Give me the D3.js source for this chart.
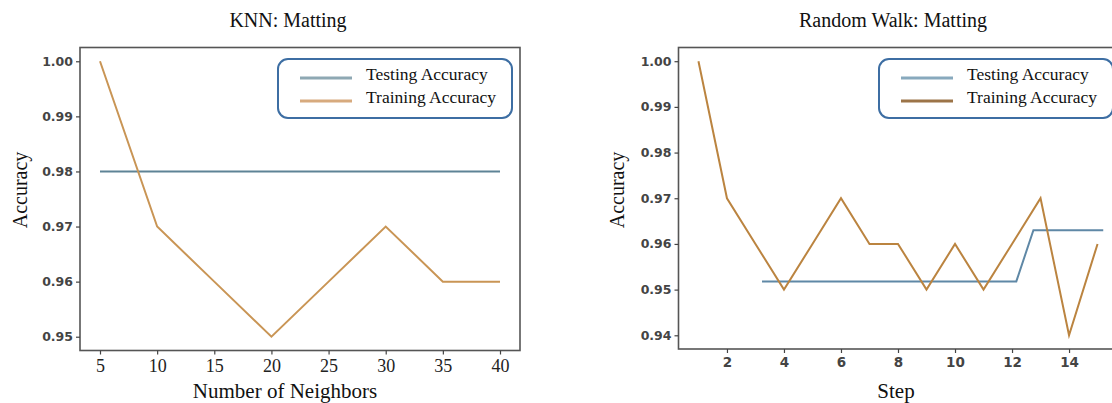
<!DOCTYPE html>
<html>
<head>
<meta charset="utf-8">
<script src="https://cdn.jsdelivr.net/npm/d3@7"></script>
<style>
  body { margin: 0; background: #fff; }
  .serif { font-family: "Liberation Serif", "Times New Roman", serif; fill: #111; }
</style>
</head>
<body>
<svg id="chart" width="1112" height="403"></svg>
<script>
// KNN panel
const knnNeighbors = [5, 10, 15, 20, 25, 30, 35, 40];
const knnTraining = [1.00, 0.97, 0.96, 0.95, 0.96, 0.97, 0.96, 0.96];
const knnTesting = [0.98, 0.98, 0.98, 0.98, 0.98, 0.98, 0.98, 0.98];
const knnXTicks = [5, 10, 15, 20, 25, 30, 35, 40];
const knnYTicks = [0.95, 0.96, 0.97, 0.98, 0.99, 1.00];

// Random walk panel
const rwSteps = [1, 2, 3, 4, 5, 6, 7, 8, 9, 10, 11, 12, 13, 14, 15];
const rwTraining = [1.00, 0.97, 0.96, 0.95, 0.96, 0.97, 0.96, 0.96, 0.95, 0.96, 0.95, 0.96, 0.97, 0.94, 0.96];
const rwTestingSteps = [3.23, 12.15, 12.75, 15.2];
const rwTesting = [0.9518, 0.9518, 0.963, 0.963];
const rwXTicks = [2, 4, 6, 8, 10, 12, 14];
const rwYTicks = [0.94, 0.95, 0.96, 0.97, 0.98, 0.99, 1.00];

const serifFont = '"Liberation Serif", "Times New Roman", serif';
const sansFont = '"DejaVu Sans", sans-serif';

const svg = d3.select("#chart");

function panel(opt) {
    const x = d3.scaleLinear().domain(opt.xDomain).range([opt.left, opt.right]);
    const y = d3.scaleLinear().domain(opt.yDomain).range([opt.bottom, opt.top]);
    const g = svg.append("g");

    const line = d3.line().x(d => x(d[0])).y(d => y(d[1]));

    g.append("path")
        .attr("fill", "none")
        .attr("stroke", opt.testColor)
        .attr("stroke-width", 2)
        .attr("d", line(d3.zip(opt.testX, opt.testY)));

    g.append("path")
        .attr("fill", "none")
        .attr("stroke", opt.trainColor)
        .attr("stroke-width", 2)
        .attr("d", line(d3.zip(opt.trainX, opt.trainY)));

    // frame
    g.append("rect")
        .attr("x", opt.left).attr("y", opt.top)
        .attr("width", opt.right - opt.left).attr("height", opt.bottom - opt.top)
        .attr("fill", "none").attr("stroke", "#555").attr("stroke-width", 1.6);

    const xAxis = g.append("g")
        .attr("transform", `translate(0,${opt.bottom})`)
        .call(d3.axisBottom(x).tickValues(opt.xTicks).tickSize(4).tickPadding(opt.xSerif ? 5 : 4).tickFormat(d3.format("d")));
    xAxis.select(".domain").remove();
    xAxis.selectAll(".tick line").attr("stroke", "#444").attr("stroke-width", 1.2);
    if (opt.xSerif) {
        xAxis.selectAll(".tick text")
            .style("font-family", serifFont).style("font-size", "18px").style("fill", "#222");
    } else {
        xAxis.selectAll(".tick text")
            .style("font-family", sansFont).style("font-size", "13.5px")
            .style("font-weight", "600").style("fill", "#444");
    }

    const yAxis = g.append("g")
        .attr("transform", `translate(${opt.left},0)`)
        .call(d3.axisLeft(y).tickValues(opt.yTicks).tickSize(4).tickPadding(3).tickFormat(d3.format(".2f")));
    yAxis.select(".domain").remove();
    yAxis.selectAll(".tick line").attr("stroke", "#444").attr("stroke-width", 1.2);
    yAxis.selectAll(".tick text")
        .style("font-family", sansFont).style("font-size", "12.5px")
        .style("font-weight", "bold").style("fill", "#444");

    svg.append("text").attr("class", "serif")
        .attr("x", opt.titleX).attr("y", 27)
        .attr("text-anchor", "middle").style("font-size", "20px")
        .text(opt.title);

    svg.append("text").attr("class", "serif")
        .attr("x", opt.xLabelX).attr("y", 398)
        .attr("text-anchor", "middle").style("font-size", "21px")
        .text(opt.xLabel);

    svg.append("text").attr("class", "serif")
        .attr("transform", `translate(${opt.yLabelX},190) rotate(-90)`)
        .attr("text-anchor", "middle").style("font-size", "20px")
        .text("Accuracy");

    // legend
    const lg = svg.append("g").attr("transform", `translate(${opt.legendX},${opt.legendY})`);
    lg.append("rect")
        .attr("width", 234).attr("height", 59).attr("rx", 10)
        .attr("fill", "#fff").attr("stroke", "#3d6ea3").attr("stroke-width", 2);
    const items = [["Testing Accuracy", opt.legendTest], ["Training Accuracy", opt.legendTrain]];
    items.forEach((it, i) => {
        lg.append("line")
            .attr("x1", 22).attr("x2", 74)
            .attr("y1", 19 + i * 23).attr("y2", 19 + i * 23)
            .attr("stroke", it[1]).attr("stroke-width", 3);
        lg.append("text").attr("class", "serif")
            .attr("x", 88).attr("y", 21 + i * 23)
            .style("font-size", "17.5px")
            .text(it[0]);
    });
}

panel({
    left: 80, right: 520, top: 47.5, bottom: 350.5,
    xDomain: [3.25, 41.75], yDomain: [0.9475, 1.0025],
    xTicks: knnXTicks, yTicks: knnYTicks, xSerif: true,
    trainX: knnNeighbors, trainY: knnTraining,
    testX: knnNeighbors, testY: knnTesting,
    trainColor: "#c99555", testColor: "#5e8396",
    legendTrain: "#d7aa7e", legendTest: "#8ea8b3",
    title: "KNN: Matting", titleX: 288,
    xLabel: "Number of Neighbors", xLabelX: 285, yLabelX: 27,
    legendX: 278, legendY: 59
});

panel({
    left: 678.5, right: 1117.5, top: 47.5, bottom: 349,
    xDomain: [0.3, 15.7], yDomain: [0.937, 1.003],
    xTicks: rwXTicks, yTicks: rwYTicks, xSerif: false,
    trainX: rwSteps, trainY: rwTraining,
    testX: rwTestingSteps, testY: rwTesting,
    trainColor: "#bb8440", testColor: "#5f88a6",
    legendTrain: "#9c7448", legendTest: "#88a9bd",
    title: "Random Walk: Matting", titleX: 893,
    xLabel: "Step", xLabelX: 896, yLabelX: 624,
    legendX: 879, legendY: 59
});
</script>
</body>
</html>
